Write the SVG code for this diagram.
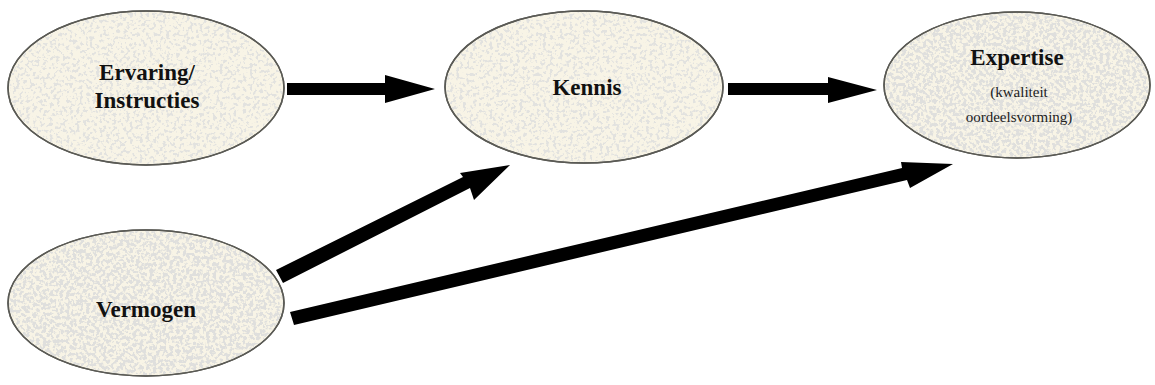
<svg xmlns="http://www.w3.org/2000/svg" width="1155" height="385" viewBox="0 0 1155 385">
<defs>
<filter id="speckle" x="0" y="0" width="100%" height="100%">
<feTurbulence type="fractalNoise" baseFrequency="0.3" numOctaves="2" seed="3" result="n"/>
<feColorMatrix in="n" type="matrix" values="0 0 0 0 0.74  0 0 0 0 0.74  0 0 0 0 0.72  0 0 0 -10 5.4" result="s"/>
<feComposite in="s" in2="SourceGraphic" operator="in"/>
</filter>
<filter id="speckle2" x="0" y="0" width="100%" height="100%">
<feTurbulence type="fractalNoise" baseFrequency="0.3" numOctaves="2" seed="7" result="n"/>
<feColorMatrix in="n" type="matrix" values="0 0 0 0 0.76  0 0 0 0 0.76  0 0 0 0 0.74  0 0 0 -10 4.7" result="s"/>
<feComposite in="s" in2="SourceGraphic" operator="in"/>
</filter>
</defs>
<style>
.node{fill:#f8f4e6;stroke:#5a5a55;stroke-width:1.5}
.tex{fill:#000}
.b{font-family:"Liberation Serif","Times New Roman",serif;font-weight:bold;font-size:23px;fill:#111;text-anchor:middle}
.r{font-family:"Liberation Serif","Times New Roman",serif;font-size:15px;fill:#222;text-anchor:middle}
.arr{fill:#000}
</style>
<rect width="1155" height="385" fill="#fff"/>
<g id="ervaring">
<ellipse class="node" cx="146" cy="88" rx="138" ry="77"/>
<ellipse class="tex" cx="146" cy="88" rx="137" ry="76" filter="url(#speckle2)"/>
<ellipse cx="146" cy="88" rx="138" ry="77" fill="none" stroke="#5a5a55" stroke-width="1.5"/>
<text class="b" x="147" y="80">Ervaring/</text>
<text class="b" x="147" y="108">Instructies</text>
</g>
<g id="kennis">
<ellipse class="node" cx="584" cy="87" rx="139" ry="76"/>
<ellipse class="tex" cx="584" cy="87" rx="138" ry="75" filter="url(#speckle2)"/>
<ellipse cx="584" cy="87" rx="139" ry="76" fill="none" stroke="#5a5a55" stroke-width="1.5"/>
<text class="b" x="587" y="95">Kennis</text>
</g>
<g id="expertise">
<ellipse class="node" cx="1017" cy="85" rx="133" ry="73"/>
<ellipse class="tex" cx="1017" cy="85" rx="132" ry="72" filter="url(#speckle)"/>
<ellipse cx="1017" cy="85" rx="133" ry="73" fill="none" stroke="#5a5a55" stroke-width="1.5"/>
<text class="b" x="1017" y="65">Expertise</text>
<text class="r" x="1019" y="97">(kwaliteit</text>
<text class="r" x="1019" y="122">oordeelsvorming)</text>
</g>
<g id="vermogen">
<ellipse class="node" cx="146" cy="303" rx="138" ry="73"/>
<ellipse class="tex" cx="146" cy="303" rx="137" ry="72" filter="url(#speckle)"/>
<ellipse cx="146" cy="303" rx="138" ry="73" fill="none" stroke="#5a5a55" stroke-width="1.5"/>
<text class="b" x="146" y="317">Vermogen</text>
</g>
<g id="connectors">
<polygon class="arr" points="287,83 385,83 385,75 435,89 385,103 385,95 287,95"/>
<polygon class="arr" points="728,83 828,83 828,77 877,90 828,103 828,95 728,95"/>
<polygon class="arr" points="276,270 463,177 460,173 510,165 474,200 470,188 283,283"/>
<polygon class="arr" points="290,312 902,168 901,162 953,164 910,188 907,180 294,325"/>
</g>
</svg>
